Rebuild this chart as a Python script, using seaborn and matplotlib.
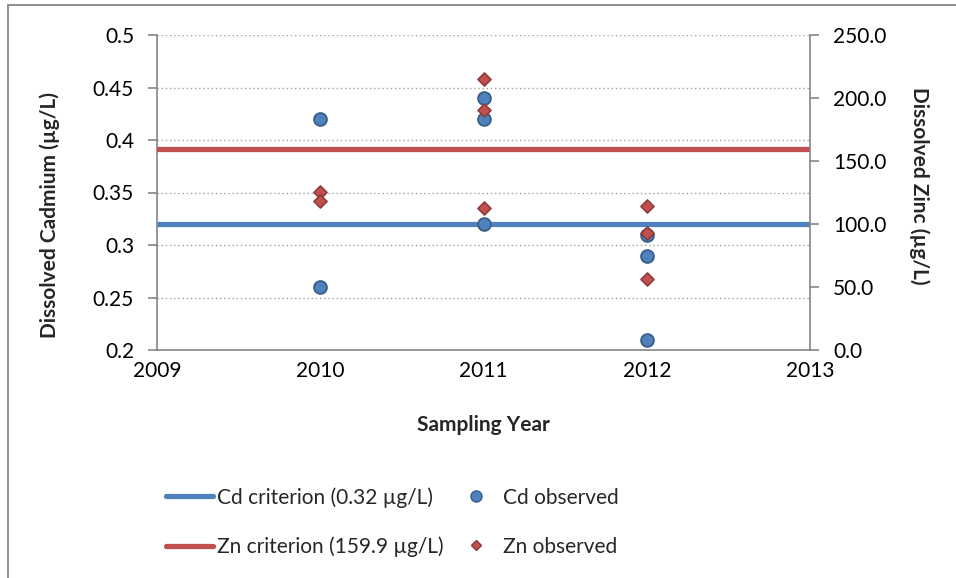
import matplotlib
matplotlib.use("Agg")
import matplotlib.pyplot as plt
import seaborn as sns
import pandas as pd
from matplotlib.lines import Line2D
from matplotlib.patches import Rectangle

# ---- data ----
cd_years = [2010, 2010, 2011, 2011, 2011, 2012, 2012, 2012]
cd_values = [0.42, 0.26, 0.44, 0.42, 0.32, 0.31, 0.29, 0.21]
zn_years = [2010, 2010, 2011, 2011, 2011, 2012, 2012, 2012]
zn_values = [125.5, 118.5, 215.0, 190.5, 112.5, 114.5, 93.0, 56.5]
crit_years = [2009, 2013]
cd_criterion = 0.32
zn_criterion = 159.9
x_ticks = [2009, 2010, 2011, 2012, 2013]
cd_ticks = [0.2, 0.25, 0.3, 0.35, 0.4, 0.45, 0.5]
cd_tick_labels = ["0.2", "0.25", "0.3", "0.35", "0.4", "0.45", "0.5"]
zn_ticks = [0, 50, 100, 150, 200, 250]
zn_tick_labels = ["0.0", "50.0", "100.0", "150.0", "200.0", "250.0"]

sns.set_theme(style="white")
plt.rcParams['font.family'] = ['Lato', 'DejaVu Sans']

BLUE = "#4F81BD"
BLUE_E = "#385D8A"
RED = "#C0504D"
RED_E = "#8C3836"
GREY = "#868686"
FS = 15

fig = plt.figure(figsize=(9.56, 5.78), dpi=100)
ax = fig.add_axes([157/956, 1-350/578, (810-157)/956, (350-35)/578])
ax2 = ax.twinx()

cd_df = pd.DataFrame({"year": cd_years, "value": cd_values})
zn_df = pd.DataFrame({"year": zn_years, "value": zn_values})
cdc = pd.DataFrame({"year": crit_years, "value": [cd_criterion]*len(crit_years)})
znc = pd.DataFrame({"year": crit_years, "value": [zn_criterion]*len(crit_years)})

# grid
for t in cd_ticks[1:]:
    ax.axhline(t, color="#A0A0A0", lw=1.0, ls=(0, (1, 2)), zorder=0)

sns.lineplot(data=cdc, x="year", y="value", ax=ax, color=BLUE, lw=3.8, zorder=2)
sns.scatterplot(data=cd_df, x="year", y="value", ax=ax, marker="o", s=85,
                color=BLUE, edgecolor=BLUE_E, linewidth=1.3, zorder=4)
sns.lineplot(data=znc, x="year", y="value", ax=ax2, color=RED, lw=3.8, zorder=2)
sns.scatterplot(data=zn_df, x="year", y="value", ax=ax2, marker="D", s=45,
                color=RED, edgecolor=RED_E, linewidth=1.1, zorder=5)

ax.set_xlim(2009, 2013)
ax.set_ylim(0.2, 0.5)
ax2.set_ylim(0, 250)
ax.set_xticks(x_ticks)
ax.set_xticklabels([str(v) for v in x_ticks], fontsize=FS)
ax.set_yticks(cd_ticks)
ax.set_yticklabels(cd_tick_labels, fontsize=FS)
ax2.set_yticks(zn_ticks)
ax2.set_yticklabels(zn_tick_labels, fontsize=FS)

ax.set_xlabel("Sampling Year", fontsize=FS, fontweight="bold")
ax.set_ylabel("Dissolved Cadmium (µg/L)", fontsize=FS, fontweight="bold")
ax2.set_ylabel("Dissolved Zinc (µg/L)", fontsize=FS, fontweight="bold", rotation=270,
               va="center")
ax.xaxis.set_label_coords(0.5, -0.205)
ax.yaxis.set_label_coords(-0.1485, 0.43)
ax2.yaxis.set_label_coords(1.168, 0.52)

for a in (ax, ax2):
    for s in a.spines.values():
        s.set_visible(False)
    a.grid(False)
ax.spines["left"].set_visible(True)
ax.spines["bottom"].set_visible(True)
ax2.spines["right"].set_visible(True)
for s in (ax.spines["left"], ax.spines["bottom"], ax2.spines["right"]):
    s.set_color(GREY)
    s.set_linewidth(1.2)
ax.tick_params(axis="y", direction="out", length=6.5, width=1.2,
               color=GREY, labelcolor="black", pad=10)
ax.tick_params(axis="x", direction="out", length=6, width=1.2,
               color=GREY, labelcolor="black", pad=2)
ax2.tick_params(axis="y", direction="out", length=6.5, width=1.2, color=GREY,
                labelcolor="black", pad=10)
ax.patch.set_visible(False)

handles = [
    Line2D([], [], color=BLUE, lw=3.8, solid_capstyle="round"),
    Line2D([], [], color=RED, lw=3.8, solid_capstyle="round"),
    Line2D([], [], ls="none", marker="o", ms=8, mfc=BLUE, mec=BLUE_E, mew=1.0),
    Line2D([], [], ls="none", marker="D", ms=5.5, mfc=RED, mec=RED_E, mew=1.0),
]
labels = ["Cd criterion (0.32 µg/L)", "Zn criterion (159.9 µg/L)",
          "Cd observed", "Zn observed"]
fig.legend(handles, labels, loc="upper left", bbox_to_anchor=(166/956, 1-487/578),
           ncol=2, frameon=False, fontsize=FS, handlelength=2.26, handletextpad=0.2,
           columnspacing=0.4, labelspacing=1.4, borderpad=0, borderaxespad=0)

fig.patches.append(Rectangle((8/956, -0.05), 1.2, 1-5/578+0.05, transform=fig.transFigure,
                             fill=False, edgecolor=GREY, lw=1.3, zorder=-1))

fig.savefig("out.png", dpi=100)
